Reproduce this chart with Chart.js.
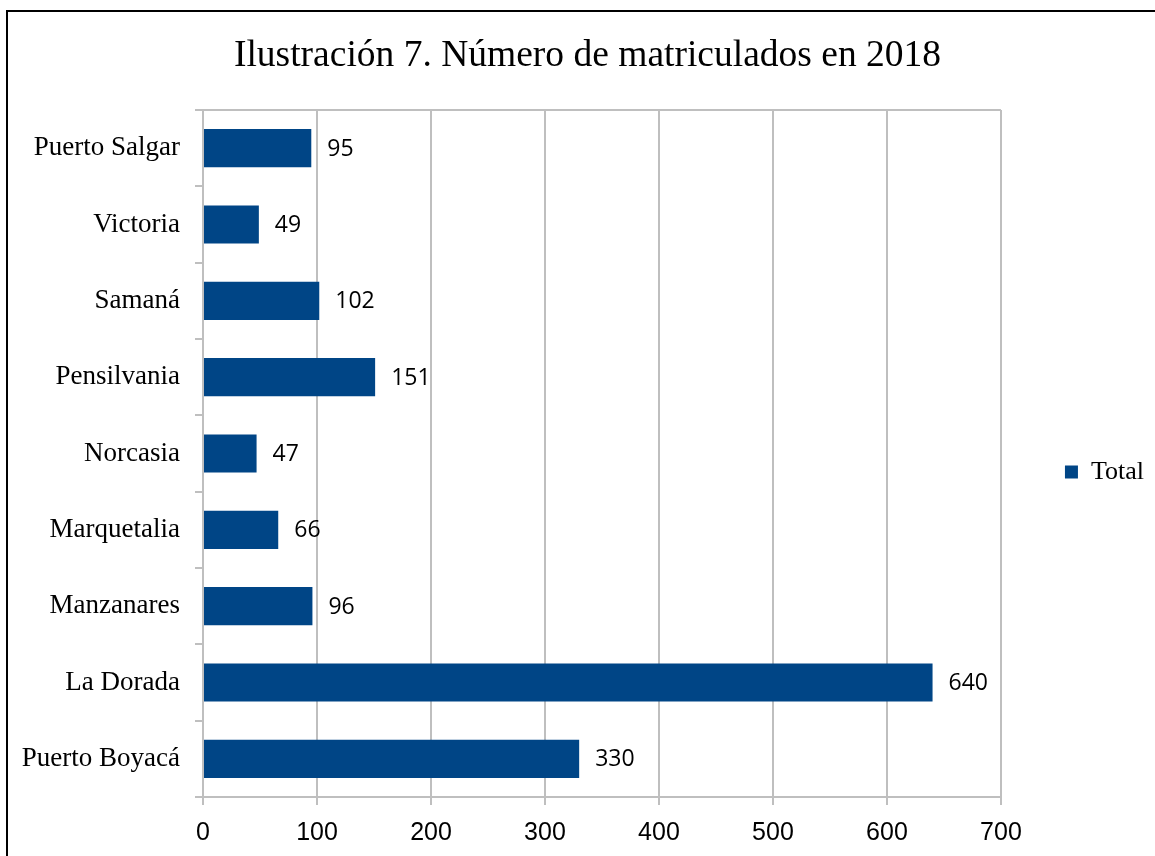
<!DOCTYPE html>
<html>
<head>
<meta charset="utf-8">
<script src="https://cdn.jsdelivr.net/npm/chart.js@4/dist/chart.umd.min.js"></script>
<style>
  html, body { margin: 0; padding: 0; background: #fff; }
  #frame { position: absolute; left: 6px; top: 10px; width: 1400px; height: 1000px;
           border-left: 2px solid #000; border-top: 2px solid #000; }
  #wrap { position: absolute; left: 0; top: 0; width: 1155px; height: 856px; }
</style>
</head>
<body>
<div id="frame"></div>
<div id="wrap"><canvas id="c" width="1155" height="856"></canvas></div>
<script>
const titleText = 'Ilustración 7. Número de matriculados en 2018';
const categories = ['Puerto Salgar', 'Victoria', 'Samaná', 'Pensilvania', 'Norcasia',
                    'Marquetalia', 'Manzanares', 'La Dorada', 'Puerto Boyacá'];
const seriesName = 'Total';
const totals = [95, 49, 102, 151, 47, 66, 96, 640, 330];
const xTicks = [0, 100, 200, 300, 400, 500, 600, 700];

const BAR = '#004586';
const GRID = '#bfbfbf';

const dataLabels = {
  id: 'dataLabels',
  afterDatasetsDraw(chart) {
    const ctx = chart.ctx;
    const meta = chart.getDatasetMeta(0);
    ctx.save();
    ctx.font = '23px "Open Sans"';
    ctx.fillStyle = '#000';
    ctx.textBaseline = 'middle';
    ctx.textAlign = 'left';
    meta.data.forEach((el, i) => {
      ctx.fillText(String(chart.data.datasets[0].data[i]), el.x + 16, el.y + 1);
    });
    ctx.restore();
  }
};

new Chart(document.getElementById('c'), {
  type: 'bar',
  data: {
    labels: categories,
    datasets: [{
      label: seriesName,
      data: totals,
      backgroundColor: BAR,
      borderWidth: 0,
      barPercentage: 0.5,
      categoryPercentage: 1.0
    }]
  },
  options: {
    indexAxis: 'y',
    responsive: false,
    animation: false,
    devicePixelRatio: 1,
    layout: { padding: { left: 21, right: 1, top: 10, bottom: 8 } },
    plugins: {
      title: {
        display: true,
        text: titleText,
        color: '#000',
        font: { family: '"Liberation Serif"', size: 37.5, weight: 'normal' },
        padding: { top: 24, bottom: 31 }
      },
      legend: {
        display: true,
        position: 'right',
        title: { display: true, text: ' ', font: { size: 10 }, padding: { top: 74, bottom: 0 } },
        labels: {
          color: '#000',
          font: { family: '"Liberation Serif"', size: 26 },
          boxWidth: 13,
          boxHeight: 13,
          padding: 64
        }
      },
      tooltip: { enabled: false }
    },
    scales: {
      x: {
        min: 0,
        max: 700,
        afterBuildTicks(scale) { scale.ticks = xTicks.map(v => ({ value: v })); },
        afterFit(scale) { scale.height = 51; },
        grid: { color: GRID, lineWidth: 2, tickLength: 8, tickColor: GRID, tickWidth: 2 },
        border: { color: GRID, width: 2 },
        ticks: {
          color: '#000',
          font: { family: '"Liberation Sans"', size: 25, lineHeight: 1.0 },
          padding: 16,
          maxRotation: 0
        }
      },
      y: {
        afterFit(scale) { scale.width = 182; },
        grid: {
          offset: true,
          drawOnChartArea: true,
          color: (c) => (c.index === 0 ? GRID : 'rgba(0,0,0,0)'),
          lineWidth: 2,
          tickLength: 8,
          tickColor: GRID,
          tickWidth: 2
        },
        border: { color: GRID, width: 2 },
        ticks: {
          color: '#000',
          font: { family: '"Liberation Serif"', size: 27 },
          padding: 15
        }
      }
    }
  },
  plugins: [dataLabels]
});
</script>
</body>
</html>
